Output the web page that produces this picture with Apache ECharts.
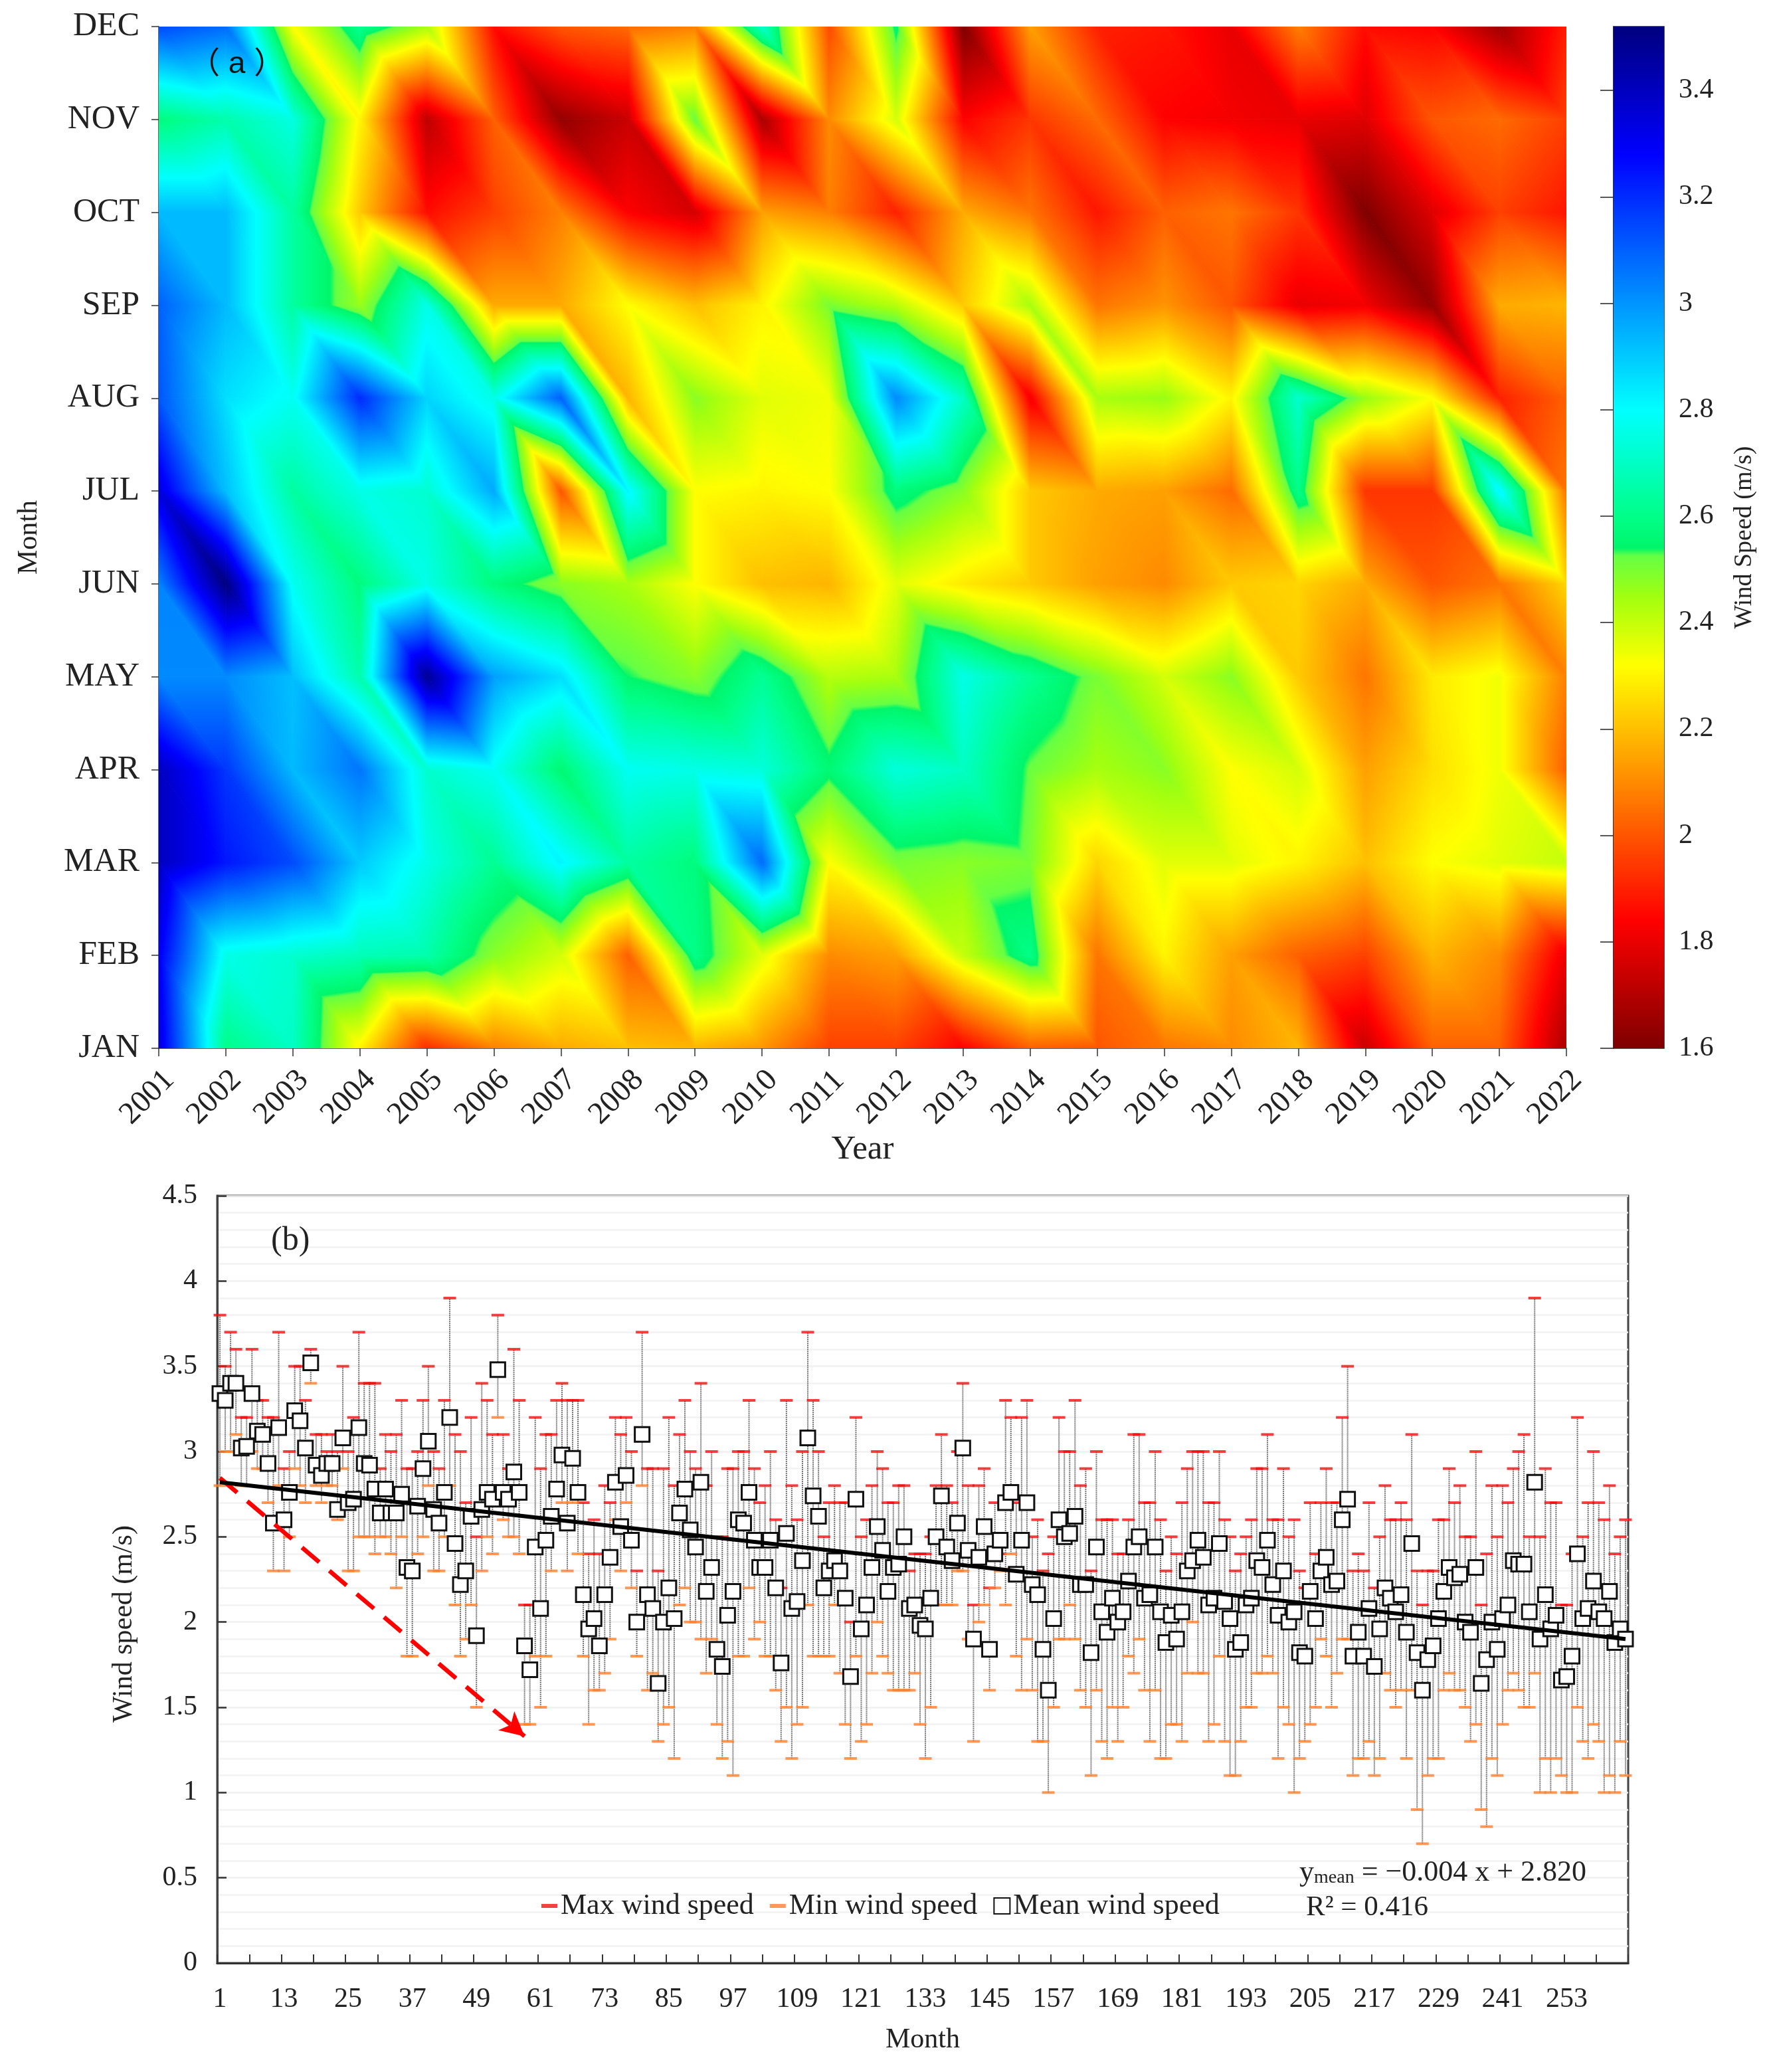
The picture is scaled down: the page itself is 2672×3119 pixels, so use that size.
<!DOCTYPE html>
<html><head><meta charset="utf-8">
<style>html,body{margin:0;padding:0;background:#fff}#c{width:2672px;height:3119px;filter:blur(0.6px)}</style>
<script src="https://cdn.jsdelivr.net/npm/echarts@6/dist/echarts.min.js"></script>
</head><body><div id="c"></div>
<script>
const years=[2001,2002,2003,2004,2005,2006,2007,2008,2009,2010,2011,2012,2013,2014,2015,2016,2017,2018,2019,2020,2021,2022];
const monthsShort=['JAN','FEB','MAR','APR','MAY','JUN','JUL','AUG','SEP','OCT','NOV','DEC'];
const monthNumbers=Array.from({length:264},(_,i)=>String(i+1));
const meanWind=[
3.34,3.30,3.40,3.40,3.02,3.03,3.34,3.12,3.10,2.93,2.58,3.14,
2.60,2.76,3.24,3.18,3.02,3.52,2.92,2.86,2.93,2.93,2.66,3.08,
2.70,2.72,3.14,2.93,2.92,2.78,2.64,2.78,2.64,2.64,2.75,2.32,
2.30,2.68,2.90,3.06,2.66,2.58,2.76,3.20,2.46,2.22,2.30,2.62,
1.92,2.66,2.76,2.72,3.48,2.76,2.72,2.88,2.76,1.86,1.72,2.44,
2.08,2.48,2.62,2.78,2.98,2.58,2.96,2.76,2.16,1.96,2.02,1.86,
2.16,2.38,2.82,2.56,2.86,2.48,2.00,3.10,2.16,2.08,1.64,2.00,
2.20,2.02,2.64,2.78,2.54,2.44,2.82,2.18,2.32,1.84,1.74,2.04,
2.18,2.60,2.58,2.76,2.48,2.32,2.32,2.48,2.20,1.76,2.52,2.08,
2.12,2.36,3.08,2.74,2.62,2.20,2.30,2.36,2.30,2.14,1.68,2.72,
1.96,2.10,2.32,2.56,2.42,2.18,2.32,2.34,2.50,2.08,2.10,1.98,
1.96,2.14,2.50,2.74,2.44,2.36,2.58,3.02,2.42,1.90,2.38,2.56,
1.84,2.40,2.48,2.70,2.76,2.28,2.48,2.70,2.22,2.16,1.84,1.60,
2.02,2.60,2.50,2.52,2.62,2.22,2.22,1.82,2.44,2.06,1.94,2.14,
2.00,2.06,2.24,2.44,2.50,2.14,2.16,2.44,2.06,1.88,2.04,1.90,
2.06,2.30,2.36,2.48,2.38,2.10,2.14,2.46,2.12,2.02,1.84,1.88,
2.10,2.14,2.36,2.32,2.48,2.22,2.04,2.30,2.00,2.06,1.82,1.80,
2.18,2.02,2.30,2.38,2.22,2.24,2.60,2.72,1.80,1.94,1.80,2.08,
1.74,1.96,2.20,2.14,2.06,2.16,1.94,2.46,1.82,1.60,1.78,1.86,
2.02,2.18,2.32,2.26,2.28,2.00,1.94,2.32,1.64,1.78,2.00,1.84,
2.02,2.10,2.36,2.34,2.34,2.06,2.82,1.90,2.16,1.96,2.04,1.66,
1.68,1.80,2.40,2.02,2.08,2.24,2.06,2.02,2.18,1.88,1.96,1.90];
const maxWind=[
3.8,3.5,3.7,3.6,3.2,3.2,3.6,3.3,3.3,3.2,3.2,3.7,
2.9,3.0,3.5,3.5,3.3,3.6,3.1,3.1,3.0,3.1,3.0,3.5,
3.0,3.2,3.7,3.4,3.4,3.4,2.9,3.1,3.0,3.1,3.3,2.9,
2.9,3.0,3.3,3.5,3.0,2.9,3.3,3.9,3.1,3.0,2.7,3.2,
2.5,3.4,3.3,3.1,3.8,3.1,2.9,3.6,3.3,2.1,2.1,3.2,
2.9,3.1,3.1,3.3,3.4,3.3,3.3,3.3,2.7,2.4,2.6,2.4,
2.8,2.7,3.2,3.1,3.2,3.0,2.3,3.7,2.9,2.9,2.3,2.9,
3.2,2.8,3.1,3.3,3.0,2.9,3.4,2.8,3.0,2.5,2.5,2.9,
2.9,3.0,3.0,3.3,2.9,2.7,2.8,3.0,2.6,2.2,3.3,2.8,
2.6,3.0,3.7,3.3,3.0,2.5,2.7,2.8,2.7,2.7,2.0,3.2,
2.5,2.6,2.8,3.0,2.9,2.7,2.7,2.8,2.8,2.3,2.4,2.4,
2.4,2.5,2.8,3.1,2.8,2.7,3.0,3.4,2.8,2.1,2.8,2.9,
2.2,2.7,2.4,3.3,3.2,2.7,3.2,3.3,2.5,2.6,2.3,2.4,
2.5,3.2,3.0,3.0,3.3,2.8,2.9,2.3,3.0,2.6,2.6,2.6,
2.4,2.4,2.6,3.1,3.1,2.7,2.7,3.0,2.6,2.3,2.5,2.4,
2.7,2.9,3.0,3.0,3.0,2.7,2.7,3.0,2.6,2.5,2.3,2.4,
2.5,2.6,2.9,2.9,3.1,2.6,2.6,2.9,2.5,2.6,2.3,2.2,
2.7,2.4,2.7,2.9,2.7,2.7,3.2,3.5,2.3,2.4,2.3,2.7,
2.2,2.5,2.8,2.6,2.6,2.7,2.6,3.1,2.3,2.1,2.3,2.3,
2.6,2.6,2.9,2.7,2.8,2.5,2.5,3.0,2.1,2.4,2.8,2.5,
2.8,2.7,2.9,3.0,3.1,2.5,3.9,2.5,2.9,2.7,2.7,2.1,
2.1,2.4,3.2,2.5,2.7,3.0,2.7,2.6,2.8,2.4,2.5,2.6];
const minWind=[
2.8,3.0,3.0,3.1,2.8,2.8,3.0,2.9,2.9,2.7,2.3,2.8,
2.3,2.5,2.9,2.8,2.7,3.4,2.8,2.7,2.8,2.8,2.6,2.9,
2.3,2.3,2.5,2.5,2.5,2.4,2.5,2.5,2.4,2.2,2.5,1.8,
1.8,2.4,2.5,2.8,2.3,2.3,2.5,2.8,2.1,1.8,1.9,2.1,
1.5,2.3,2.5,2.4,3.2,2.6,2.5,2.5,2.4,1.4,1.4,1.8,
1.5,1.8,2.3,2.8,2.7,2.3,2.7,2.4,1.8,1.4,1.6,1.6,
1.7,1.9,2.6,2.3,2.7,2.2,1.8,2.8,1.6,1.7,1.3,1.4,
1.5,1.2,2.1,2.2,2.0,2.0,1.9,1.7,1.9,1.4,1.2,1.3,
1.1,1.8,1.8,2.2,1.9,2.0,1.8,1.8,1.6,1.3,1.5,1.2,
1.4,1.5,2.1,1.8,1.8,1.8,1.8,2.1,1.7,1.4,1.2,1.8,
1.3,1.4,1.7,2.0,1.8,1.7,1.6,1.6,1.6,1.6,1.7,1.4,
1.2,1.5,2.1,2.1,2.1,2.1,2.3,2.3,1.9,1.3,2.0,2.1,
1.6,2.2,2.3,2.1,2.4,1.8,1.6,1.9,1.6,1.3,1.3,1.0,
1.5,1.9,1.9,2.1,1.9,1.6,1.5,1.1,1.6,1.3,1.2,1.5,
1.3,1.5,1.8,1.7,1.9,1.6,1.3,1.6,1.2,1.2,1.4,1.4,
1.3,1.7,2.0,1.7,1.7,1.3,1.4,1.8,1.3,1.1,1.1,1.3,
1.5,1.5,1.7,1.7,1.8,1.7,1.2,1.5,1.4,1.0,1.2,1.3,
1.4,1.5,1.9,1.8,1.5,1.7,1.9,1.9,1.1,1.2,1.2,1.3,
1.1,1.2,1.7,1.6,1.5,1.6,1.2,1.6,0.9,0.7,1.1,1.2,
1.2,1.6,1.7,1.6,1.6,1.5,1.3,1.4,0.9,0.8,1.2,1.1,
1.4,1.6,1.7,1.6,1.5,1.5,1.7,1.0,1.2,1.0,1.2,1.1,
1.0,1.0,1.5,1.3,1.2,1.4,1.3,1.0,1.1,1.0,1.3,1.1];
const trendMonths=['1','264'];
const trendValues=[2.82,1.90];
const arrowFrom=['1',2.845];
const arrowTo=['58',1.33];
const colorValues=[1.6,1.84,2.32,2.45,2.525,2.54,2.6,2.8,3.28,3.52];
const colorList=['#7f0000','#ff0000','#ffff00','#a0ff10','#66ff44','#00f56a','#00ff88','#00ffff','#0000ff','#00007f'];

const SERIF='"Liberation Serif","Times New Roman",serif';
const VMIN=colorValues[0],VMAX=colorValues[colorValues.length-1];
const colorStops=colorValues.map((v,i)=>({offset:(v-VMIN)/(VMAX-VMIN),color:colorList[i]}));
const cellValue=(i,j)=>meanWind[i*12+j];
function flatColor(v){
  for(let k=1;k<colorValues.length;k++){ if(v<=colorValues[k]){
    return echarts.color.lerp((v-colorValues[k-1])/(colorValues[k]-colorValues[k-1]),[colorList[k-1],colorList[k]]);}}
  return colorList[colorList.length-1];
}
// one triangle of the surface: a linear gradient along the value slope
function triangleFill(p,v){
  const ax=p[1][0]-p[0][0],ay=p[1][1]-p[0][1],bx=p[2][0]-p[0][0],by=p[2][1]-p[0][1];
  const db=v[1]-v[0],dc=v[2]-v[0],det=ax*by-ay*bx;
  const gx=(db*by-dc*ay)/det,gy=(ax*dc-bx*db)/det,g2=gx*gx+gy*gy;
  if(g2<1e-12) return flatColor(v[0]);
  const s=(VMIN-v[0])/g2,e=(VMAX-v[0])/g2;
  return {type:'linear',global:true,x:p[0][0]+gx*s,y:p[0][1]+gy*s,x2:p[0][0]+gx*e,y2:p[0][1]+gy*e,colorStops};
}
const triangles=[];
for(let i=0;i<years.length-1;i++)for(let j=0;j<monthsShort.length-1;j++){triangles.push([years[i],j,0]);triangles.push([years[i],j,1]);}

const chart=echarts.init(document.getElementById('c'),null,{renderer:'canvas'});
const textBase={fontFamily:SERIF,color:'#222'};
chart.setOption({
 animation:false,backgroundColor:'#fff',
 textStyle:{fontFamily:SERIF},
 grid:[
  {left:239,top:40,width:2119,height:1538,outerBoundsMode:'none'},
  {left:2429,top:40,width:76,height:1538,show:true,borderColor:'#222',borderWidth:1.5,backgroundColor:'transparent',outerBoundsMode:'none'},
  {left:327,top:1800,width:2124,height:1155,show:true,borderColor:'#444',borderWidth:3,outerBoundsMode:'none'}
 ],
 xAxis:[
  {gridIndex:0,type:'value',min:2001,max:2022,interval:1,name:'Year',nameLocation:'middle',nameGap:125,
   nameTextStyle:{fontSize:51,...textBase},splitLine:{show:false},
   axisLine:{show:true,lineStyle:{color:'#333',width:1.5}},axisTick:{show:true,length:12,lineStyle:{color:'#333',width:1.5}},
   axisLabel:{fontSize:47,...textBase,rotate:45,margin:57,align:'center',verticalAlign:'middle',padding:[0,48,0,0],formatter:v=>String(v)}},
  {gridIndex:1,type:'value',min:0,max:1,show:false},
  {gridIndex:2,type:'category',data:monthNumbers,boundaryGap:true,name:'Month',nameLocation:'middle',nameGap:95,
   nameTextStyle:{fontSize:42,...textBase},splitLine:{show:false},
   axisLine:{show:true,lineStyle:{color:'#333',width:3}},
   axisTick:{show:true,inside:true,length:13,interval:i=>i%6===0,lineStyle:{color:'#333',width:2}},
   axisLabel:{fontSize:42,...textBase,interval:i=>i%12===0,margin:34}}
 ],
 yAxis:[
  {gridIndex:0,type:'value',min:0,max:11,interval:1,name:'Month',nameLocation:'middle',nameGap:174,
   nameTextStyle:{fontSize:42,...textBase},splitLine:{show:false},
   axisLine:{show:true,lineStyle:{color:'#333',width:1.5}},axisTick:{show:true,length:11,lineStyle:{color:'#333',width:1.5}},
   axisLabel:{fontSize:50,...textBase,margin:29,formatter:v=>monthsShort[v]}},
  {gridIndex:1,type:'value',position:'right',min:1.6,max:3.52,interval:0.2,name:'Wind Speed (m/s)',nameLocation:'middle',nameGap:102,nameRotate:90,
   nameTextStyle:{fontSize:38,...textBase},splitLine:{show:false},
   axisLine:{show:true,lineStyle:{color:'#222',width:1.5}},
   axisTick:{show:true,inside:true,length:20,lineStyle:{color:'#222',width:1.5}},
   axisLabel:{fontSize:42,...textBase,margin:22,showMaxLabel:false,formatter:v=>String(+v.toFixed(1))}},
  {gridIndex:2,type:'value',min:0,max:4.5,interval:0.5,name:'Wind speed (m/s)',nameLocation:'middle',nameGap:119,
   nameTextStyle:{fontSize:42,...textBase,padding:[0,134,0,0]},
   axisLine:{show:true,lineStyle:{color:'#444',width:3}},
   axisTick:{show:true,inside:true,length:14,lineStyle:{color:'#333',width:2.5}},
   splitLine:{show:true,lineStyle:{color:'#f0f0f0',width:2.5}},
   minorTick:{show:false,splitNumber:5},minorSplitLine:{show:true,lineStyle:{color:'#f2f2f2',width:2.5}},
   axisLabel:{fontSize:42,...textBase,margin:30,formatter:v=>String(v)}}
 ],
 legend:{show:true,left:810,top:2842,orient:'horizontal',itemWidth:24,itemHeight:24,itemGap:24,selectedMode:false,
  textStyle:{fontFamily:SERIF,fontSize:44,color:'#222'},
  data:[{name:'Max wind speed',icon:'path://M0 0H24V6H0Z'},{name:'Min wind speed',icon:'path://M0 0H24V6H0Z'},{name:'Mean wind speed',icon:'rect'}]},
 graphic:[
  {type:'text',left:285,top:74,style:{text:'（ a ）',fontSize:46,fontFamily:'"Liberation Sans","Noto Sans CJK SC",sans-serif',fill:'#111'},z:50},
  {type:'text',left:408,top:1843,style:{text:'(b)',fontSize:50,fontFamily:SERIF,fill:'#222'},z:50},
  {type:'text',left:1956,top:2797,style:{text:'{a|y}{s|mean}{a| = −0.004 x + 2.820}',rich:{a:{fontSize:44,fontFamily:SERIF,fill:'#222'},s:{fontSize:28,fontFamily:SERIF,fill:'#222',verticalAlign:'bottom',padding:[14,0,0,0]}}},z:50},
  {type:'text',left:1966,top:2850,style:{text:'R² = 0.416',fontSize:43,fontFamily:SERIF,fill:'#222'},z:50}
 ],
 series:[
  {name:'surface',type:'custom',xAxisIndex:0,yAxisIndex:0,data:triangles,clip:true,silent:true,encode:{x:0,y:1},
   renderItem(params,api){
    const y=api.value(0),j=api.value(1),t=api.value(2),i=y-years[0];
    const corners=t===0?[[i,j],[i+1,j],[i,j+1]]:[[i+1,j+1],[i,j+1],[i+1,j]];
    const pts=corners.map(c=>api.coord([years[c[0]],c[1]]));
    const fill=triangleFill(pts,corners.map(c=>cellValue(c[0],c[1])));
    return {type:'polygon',shape:{points:pts},style:{fill:fill,stroke:fill,lineWidth:1}};
   }},
  {name:'scale',type:'custom',xAxisIndex:1,yAxisIndex:1,data:[[0,VMIN,1,VMAX]],silent:true,encode:{x:[0,2],y:[1,3]},
   renderItem(params,api){
    const a=api.coord([0,VMIN]),b=api.coord([1,VMAX]);
    return {type:'rect',shape:{x:a[0],y:b[1],width:b[0]-a[0],height:a[1]-b[1]},
     style:{fill:{type:'linear',x:0,y:1,x2:0,y2:0,colorStops}}};
   }},
  {name:'range',type:'custom',xAxisIndex:2,yAxisIndex:2,silent:true,z:2,encode:{x:0,y:[1,2]},
   data:meanWind.map((_,i)=>[i,minWind[i],maxWind[i]]),
   renderItem(params,api){
    const a=api.coord([api.value(0),api.value(1)]),b=api.coord([api.value(0),api.value(2)]);
    return {type:'line',shape:{x1:a[0],y1:a[1],x2:b[0],y2:b[1]},style:{stroke:'#777',lineWidth:2,lineDash:[2,1]}};
   }},
  {name:'Max wind speed',type:'scatter',xAxisIndex:2,yAxisIndex:2,z:3,symbol:'rect',symbolSize:[19,4],clip:false,
   itemStyle:{color:'#f01010'},data:maxWind.map((v,i)=>[i,v])},
  {name:'Min wind speed',type:'scatter',xAxisIndex:2,yAxisIndex:2,z:3,symbol:'rect',symbolSize:[19,4],clip:false,
   itemStyle:{color:'#ff7f2a'},data:minWind.map((v,i)=>[i,v])},
  {name:'Mean wind speed',type:'scatter',xAxisIndex:2,yAxisIndex:2,z:4,symbol:'rect',symbolSize:22,clip:false,
   itemStyle:{color:'#fff',borderColor:'#111',borderWidth:3,opacity:1},data:meanWind.map((v,i)=>[i,v])},
  {name:'trend',type:'line',xAxisIndex:2,yAxisIndex:2,z:5,symbol:'none',lineStyle:{color:'#000',width:6},
   data:trendMonths.map((m,i)=>[m,trendValues[i]]),
   markLine:{silent:true,symbol:['none','arrow'],symbolSize:[28,36],label:{show:false},
    lineStyle:{color:'#ff0000',width:6.5,type:[34,20]},
    data:[[{coord:arrowFrom},{coord:arrowTo}]]}}
 ]
});
</script></body></html>
